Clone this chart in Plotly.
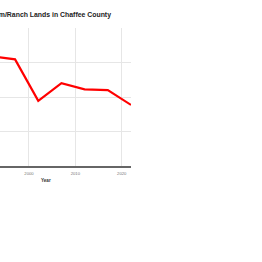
import plotly.graph_objects as go

years = [1992, 1997, 2002, 2007, 2012, 2017, 2022]
acres = [31800, 30900, 18900, 24000, 22200, 22000, 17700]
title_text = "Farm/Ranch Lands in Chaffee County"
x_title = "Year"
x_ticks = [2000, 2010, 2020]
y_ticks = [0, 10000, 20000, 30000, 40000]

W, H = 262, 262
ml, mr, mt, mb = 0, 131, 28, 96
font_main = "Liberation Sans, Arial, sans-serif"

fig = go.Figure()
fig.add_trace(go.Scatter(x=years, y=acres, mode="lines",
                         line=dict(color="#ff0000", width=2.2),
                         hoverinfo="skip", showlegend=False, cliponaxis=True))

fig.update_layout(
    width=W, height=H,
    margin=dict(l=ml, r=mr, t=mt, b=mb, pad=0),
    paper_bgcolor="white", plot_bgcolor="white",
    title=dict(text="<b>" + title_text + "</b>", xref="container", yref="container",
               x=111 / W, xanchor="right", y=1 - 14.5 / H, yanchor="middle",
               font=dict(family=font_main, size=6.9, color="#222")),
    xaxis=dict(range=[1993.75, 2022], tickvals=x_ticks, showgrid=True,
               gridcolor="#e6e6e6", gridwidth=1, zeroline=False,
               showline=True, linecolor="#666", linewidth=1.5,
               ticks="", tickfont=dict(family=font_main, size=4.2, color="#777"),
               ticklabelstandoff=2),
    yaxis=dict(range=[0, 40000], tickvals=y_ticks, showgrid=True,
               gridcolor="#e6e6e6", gridwidth=1, zeroline=False,
               showline=False, showticklabels=False, ticks=""),
    annotations=[dict(text="<b>" + x_title + "</b>", xref="paper", yref="paper",
                      x=46 / (W - ml - mr), y=-14 / (H - mt - mb),
                      xanchor="center", yanchor="middle", showarrow=False,
                      font=dict(family=font_main, size=4.6, color="#333"))],
)

fig.write_html("out.html")
